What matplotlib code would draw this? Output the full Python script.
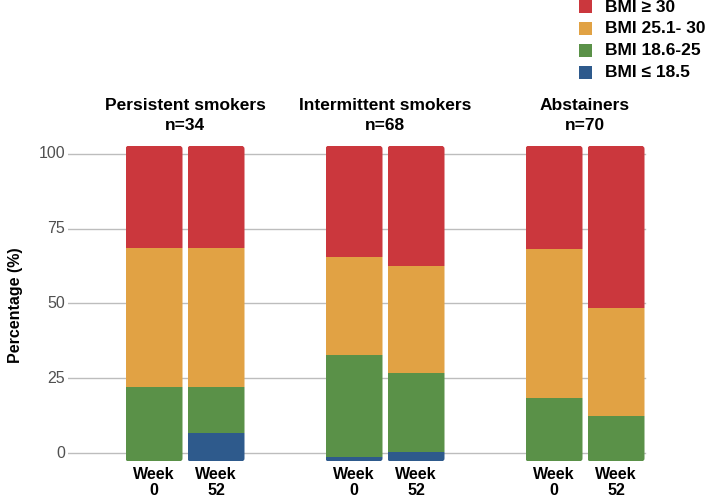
import matplotlib
matplotlib.use("Agg")
import matplotlib.pyplot as plt
from matplotlib.patches import Rectangle, FancyBboxPatch

# values (segment heights, bottom to top)
groups = ["Persistent smokers", "Intermittent smokers", "Abstainers"]
group_n = ["n=34", "n=68", "n=70"]
weeks = ["0", "52"]
bar_base = -2.8
blue = [0.0, 9.6, 1.5, 3.1, 0.0, 0.0]
green = [24.8, 15.2, 34.2, 26.3, 21.2, 15.3]
orange = [46.6, 46.6, 32.6, 35.8, 49.8, 35.9]
red = [34.1, 34.1, 37.2, 40.3, 34.5, 54.3]
yticks = [0, 25, 50, 75, 100]

series = [("BMI \u2264 18.5", blue, "#2e5a8c"),
          ("BMI 18.6-25", green, "#5a9148"),
          ("BMI 25.1- 30", orange, "#e1a244"),
          ("BMI \u2265 30", red, "#cb373d")]

plt.rcParams['font.family'] = ['Liberation Sans', 'DejaVu Sans']

W, H = 709, 498
fig = plt.figure(figsize=(W / 100, H / 100), dpi=100)
ax = fig.add_axes([68 / W, (H - 468) / H, 641 / W, 332 / H])
ax.set_xlim(-0.585, 2.62)
ax.set_ylim(-5, 106)
ax.axis('off')

offset = 0.155
width = 0.285
xs = []
for g in range(len(groups)):
    xs += [g - offset, g + offset]

# grid lines
x_end = xs[-1] + width / 2
for t in yticks:
    ax.plot([-0.585, x_end], [t, t], color='#bdbdbd', lw=1, zorder=0)
    ax.text(-0.6, t, str(t), ha='right', va='center', fontsize=11.5, color='#505050')

# stacked bars, clipped to a rounded outline
for i, x in enumerate(xs):
    total = sum(s[1][i] for s in series)
    outline = FancyBboxPatch((x - width / 2, bar_base), width, total,
                             boxstyle="round,pad=0,rounding_size=0.015",
                             mutation_aspect=67, facecolor='none',
                             edgecolor='none', zorder=3)
    ax.add_patch(outline)
    bottom = bar_base
    for label, vals, color in series:
        if vals[i] > 0:
            bars = ax.bar(x, vals[i], width, bottom=bottom, color=color,
                          edgecolor='none', zorder=2)
            for b in bars:
                b.set_clip_path(outline)
        bottom += vals[i]
    ax.text(x, 0.003, "Week", transform=ax.get_xaxis_transform(),
            ha='center', va='top', fontsize=11.5, fontweight='bold')
    ax.text(x, -0.045, weeks[i % 2], transform=ax.get_xaxis_transform(),
            ha='center', va='top', fontsize=11.5, fontweight='bold')

# group titles
for g, (name, n) in enumerate(zip(groups, group_n)):
    ax.text(g, (468 - 105) / 332, name, transform=ax.get_xaxis_transform(),
            ha='center', va='center', fontsize=12.5, fontweight='bold')
    ax.text(g, (468 - 125) / 332, n, transform=ax.get_xaxis_transform(),
            ha='center', va='center', fontsize=12.5, fontweight='bold')

fig.text(16 / W, 1 - 305 / H, "Percentage (%)", rotation=90, ha='center',
         va='center', fontsize=11.5, fontweight='bold')

# legend
for k, (label, vals, color) in enumerate(reversed(series)):
    yc = 7 + 21.7 * k
    fig.add_artist(Rectangle((579 / W, 1 - (yc + 6.5) / H), 13 / W, 13 / H,
                             transform=fig.transFigure, facecolor=color,
                             edgecolor='none'))
    fig.text(605 / W, 1 - yc / H, label, ha='left', va='center',
             fontsize=12.5, fontweight='bold')

fig.savefig("out.png", dpi=100)
